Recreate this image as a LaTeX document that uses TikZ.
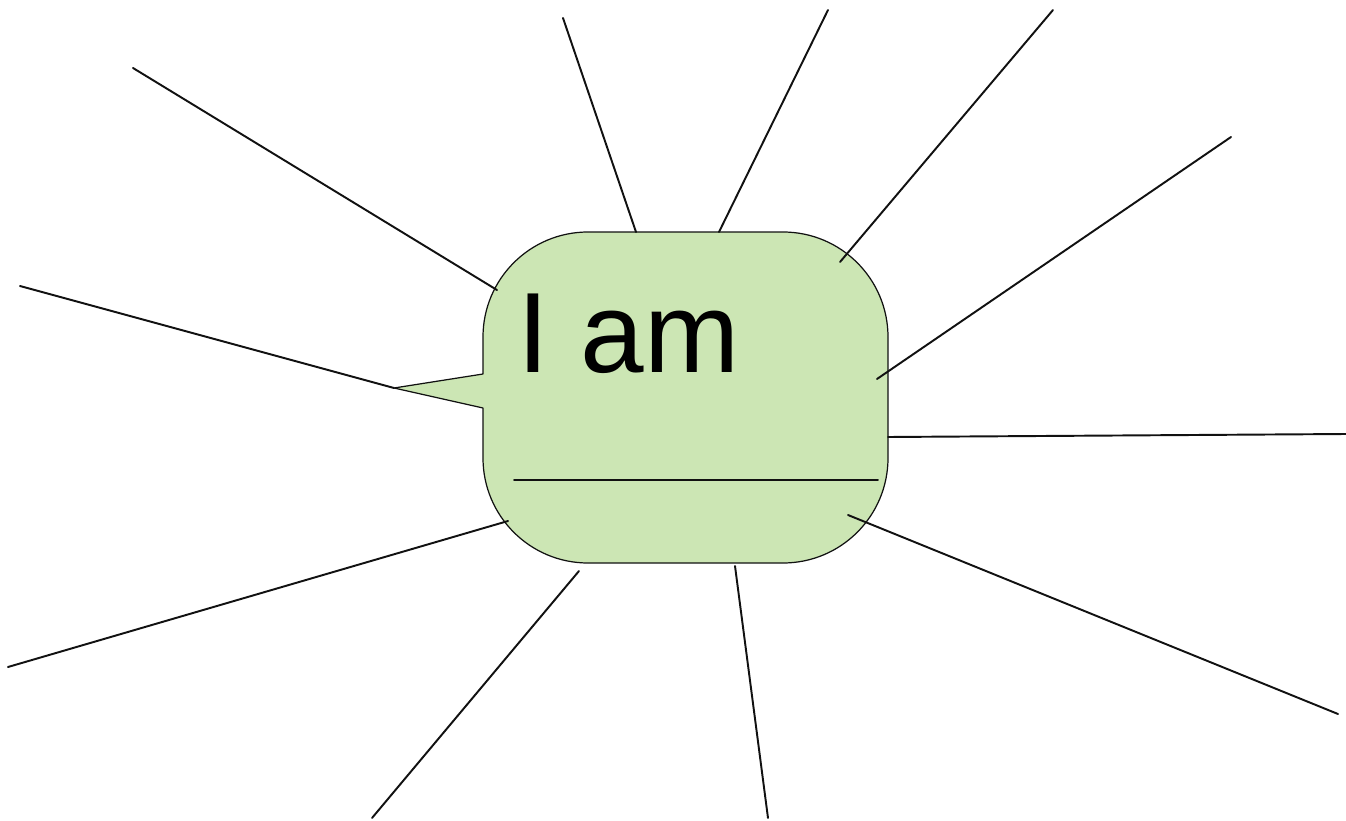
\documentclass[tikz,border=0pt]{standalone}
\usepackage{fontspec}
\setmainfont{Liberation Sans}
\usepackage{xcolor}
\definecolor{inkC}{HTML}{111111}
\definecolor{bubbleC}{HTML}{CCE6B4}

\begin{document}
\begin{tikzpicture}[
  x=0.02cm,
  y=-0.02cm,
  line cap=round,
  line join=round
]
\useasboundingbox (0,0) rectangle (1346,821);

% Ray ends: outer / inner
\coordinate (o1) at (133,68);    \coordinate (i1) at (497,290);
\coordinate (o2) at (20,286);    \coordinate (i2) at (394,388);
\coordinate (o3) at (563,18);    \coordinate (i3) at (636,232);
\coordinate (o4) at (828,10);    \coordinate (i4) at (719,232);
\coordinate (o5) at (1053,10);   \coordinate (i5) at (840,262);
\coordinate (o6) at (1231,137);  \coordinate (i6) at (877,379);
\coordinate (o7) at (1346,434);  \coordinate (i7) at (888,437);
\coordinate (o8) at (1338,714);  \coordinate (i8) at (848,515);
\coordinate (o9) at (768,818);   \coordinate (i9) at (735,566);
\coordinate (o10) at (372,818);  \coordinate (i10) at (579,571);
\coordinate (o11) at (8,667);    \coordinate (i11) at (508,521);

% Speech bubble
\filldraw[fill=bubbleC, draw=inkC, line width=0.7pt]
  (483,408) -- (394,388) -- (483,374) [rounded corners=2.1cm]
  -- (483,232) -- (888,232) -- (888,563) -- (483,563) [sharp corners] -- cycle;

\node[anchor=base west, inner sep=0pt, text=black,
  font=\fontsize{65}{78}\selectfont] (iam) at (517,372) {I am};

% Blank to fill in
\coordinate (blankL) at (514,480);
\coordinate (blankR) at (878,480);
\draw[inkC, line width=1.1pt] (blankL) -- (blankR);

% Rays
\foreach \i in {1,...,11}{
  \draw[inkC, line width=1.1pt] (o\i) -- (i\i);
}

\end{tikzpicture}
\end{document}
